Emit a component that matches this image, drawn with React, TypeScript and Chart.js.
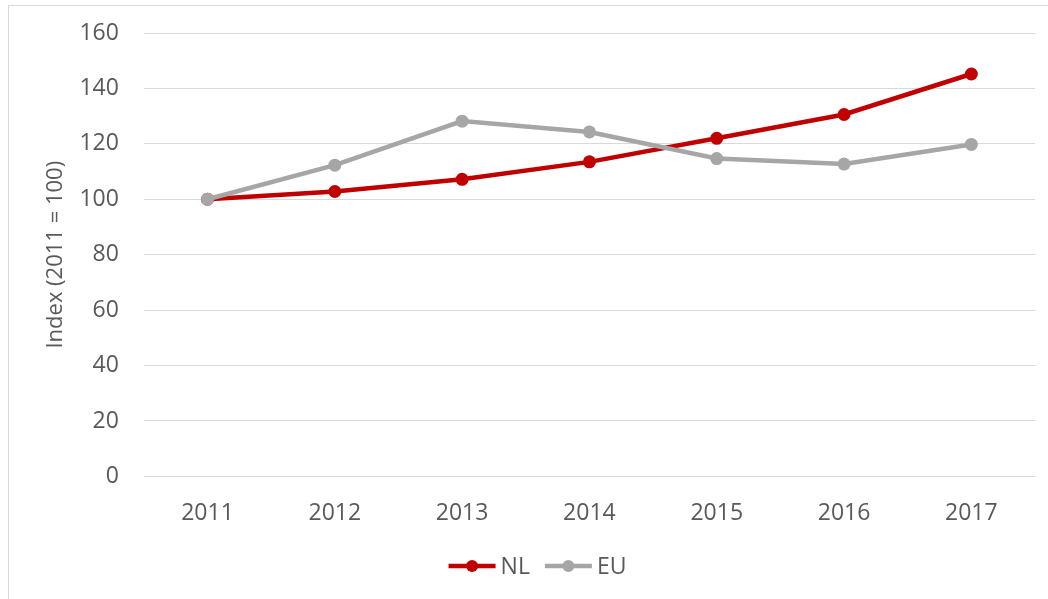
import React, { useEffect, useRef } from "react";
import { Chart, registerables } from "chart.js";

Chart.register(...registerables);

const years = ["2011", "2012", "2013", "2014", "2015", "2016", "2017"];
const nlValues = [100, 102.8, 107.2, 113.5, 122.0, 130.6, 145.2];
const euValues = [100, 112.3, 128.2, 124.3, 114.7, 112.7, 119.8];
const seriesNames = ["NL", "EU"];
const seriesColors = ["#c00000", "#a6a6a6"];
const yTitle = "Index (2011 = 100)";

const FONT = "'Open Sans', 'Liberation Sans', sans-serif";
const TEXT = "#595959";

const lineLegendPlugin = {
  id: "lineLegend",
  afterDraw(chart: any) {
    const ctx = chart.ctx;
    const ds = chart.data.datasets;
    ctx.save();
    ctx.font = `23px ${FONT}`;
    const lineW = 47;
    const gapText = 5;
    const gapItem = 15;
    const widths = ds.map((d: any) => lineW + gapText + ctx.measureText(d.label).width);
    const total = widths.reduce((a: number, b: number) => a + b, 0) + gapItem * (ds.length - 1);
    let x = chart.width / 2 - total / 2 + 9;
    const y = chart.height - 33;
    ds.forEach((d: any, i: number) => {
      ctx.strokeStyle = d.borderColor;
      ctx.lineWidth = 4.5;
      ctx.beginPath();
      ctx.moveTo(x, y);
      ctx.lineTo(x + lineW, y);
      ctx.stroke();
      ctx.fillStyle = d.borderColor;
      ctx.beginPath();
      ctx.arc(x + lineW / 2, y, 6, 0, Math.PI * 2);
      ctx.fill();
      ctx.fillStyle = TEXT;
      ctx.textBaseline = "middle";
      ctx.textAlign = "left";
      ctx.fillText(d.label, x + lineW + gapText, y + 1);
      x += widths[i] + gapItem;
    });
    ctx.restore();
  },
};

export default function App() {
  const ref = useRef<HTMLCanvasElement>(null);
  useEffect(() => {
    if (!ref.current) return;
    const chart = new Chart(ref.current, {
      type: "line",
      data: {
        labels: years,
        datasets: [
          {
            label: seriesNames[0],
            data: nlValues,
            borderColor: seriesColors[0],
            backgroundColor: seriesColors[0],
            borderWidth: 4.5,
            pointRadius: 6.5,
            pointBorderWidth: 0,
            pointBackgroundColor: seriesColors[0],
            tension: 0,
            order: 1,
          },
          {
            label: seriesNames[1],
            data: euValues,
            borderColor: seriesColors[1],
            backgroundColor: seriesColors[1],
            borderWidth: 4.5,
            pointRadius: 6.5,
            pointBorderWidth: 0,
            pointBackgroundColor: seriesColors[1],
            tension: 0,
            order: 0,
          },
        ],
      },
      options: {
        animation: false,
        responsive: false,
        maintainAspectRatio: false,
        layout: { padding: { left: 34, right: 13, top: 27, bottom: 49 } },
        plugins: {
          legend: { display: false },
          tooltip: { enabled: false },
        },
        scales: {
          x: {
            offset: true,
            grid: { display: false, drawTicks: false },
            border: { display: false },
            ticks: { color: TEXT, font: { family: FONT, size: 23 }, padding: 23 },
          },
          y: {
            min: 0,
            max: 160,
            grid: { color: "#d9d9d9", lineWidth: 1, drawTicks: false },
            border: { display: false },
            ticks: { stepSize: 20, color: TEXT, font: { family: FONT, size: 23 }, padding: 25 },
            title: {
              display: true,
              text: yTitle,
              color: TEXT,
              font: { family: FONT, size: 22 },
              padding: { top: 0, bottom: -15 },
            },
            afterFit: (scale: any) => {
              scale.paddingTop = 0;
              scale.paddingBottom = 0;
            },
          },
        },
      },
      plugins: [lineLegendPlugin],
    });
    return () => chart.destroy();
  }, []);
  return (
    <div
      style={{
        position: "fixed",
        left: 8,
        top: 5,
        width: 1040,
        height: 594,
        borderLeft: "1px solid #d9d9d9",
        borderTop: "1px solid #d9d9d9",
        boxSizing: "border-box",
        background: "#fff",
      }}
    >
      <canvas ref={ref} width={1039} height={593} style={{ display: "block" }} />
    </div>
  );
}
